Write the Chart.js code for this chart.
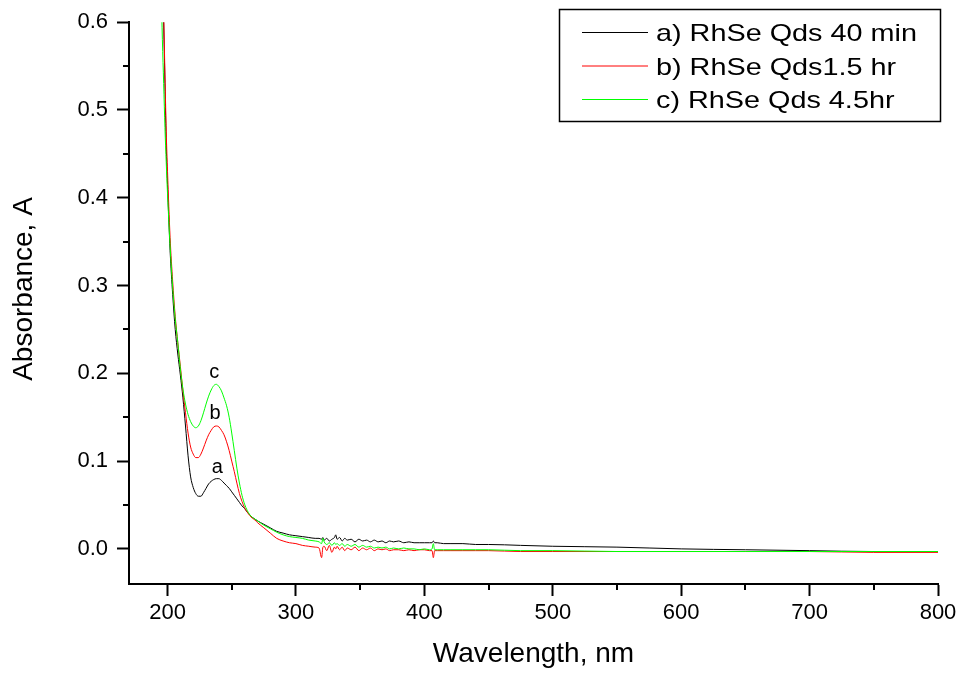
<!DOCTYPE html>
<html>
<head>
<meta charset="utf-8">
<script src="https://cdn.jsdelivr.net/npm/chart.js@4.4.1/dist/chart.umd.min.js"></script>
<style>
    html, body { margin: 0; padding: 0; background: #ffffff; }
    #wrap { width: 961px; height: 675px; }
</style>
</head>
<body>
<div id="wrap"><canvas id="canvas"></canvas></div>
<script>
// wavelength, nm (shared x values)
var wavelength = [195, 196, 197, 198, 199, 200,
    202, 204, 206, 208, 210, 212, 214, 216, 218, 220,
    222, 224, 226, 228, 230, 232, 234, 236, 238, 240,
    242, 244, 246, 248, 250, 252, 254, 256, 258, 260,
    262, 264, 266, 268, 270,
    275, 280, 285, 290, 295, 300, 305, 310, 315,
    318, 320, 321, 322,
    324, 326, 328, 330,
    331, 332, 334, 336, 338, 340,
    343, 346, 349, 352, 355, 358, 361, 364, 367, 370, 373, 376,
    380, 384, 388, 392, 396, 400,
    404, 406, 407, 408, 410,
    415, 420, 430, 440, 450, 475, 500,
    550, 600, 650, 700, 750, 800];

// a) RhSe Qds 40 min
var absA = [0.74, 0.67, 0.60, 0.53, 0.46, 0.415,
    0.34, 0.29, 0.25, 0.222, 0.198, 0.172, 0.14, 0.106, 0.082, 0.070,
    0.063, 0.060, 0.060, 0.064, 0.069, 0.074, 0.077, 0.079, 0.080, 0.080,
    0.078, 0.075, 0.072, 0.069, 0.065, 0.061, 0.057, 0.053, 0.049, 0.046,
    0.042, 0.039, 0.036, 0.034, 0.032,
    0.028, 0.024, 0.020, 0.018, 0.016, 0.015, 0.014, 0.013, 0.012,
    0.012, 0.011, 0.013, 0.010,
    0.012, 0.009, 0.011, 0.013,
    0.016, 0.011, 0.013, 0.009, 0.012, 0.010,
    0.011, 0.008, 0.011, 0.009, 0.010, 0.008, 0.010, 0.008, 0.009, 0.007, 0.009, 0.008,
    0.009, 0.007, 0.008, 0.007, 0.007, 0.007,
    0.007, 0.007, 0.009, 0.007, 0.007,
    0.006, 0.006, 0.006, 0.005, 0.005, 0.004, 0.003,
    0.002, 0.000, -0.001, -0.002, -0.003, -0.003];

// b) RhSe Qds1.5 hr
var absB = [0.75, 0.68, 0.61, 0.54, 0.475, 0.43,
    0.355, 0.305, 0.265, 0.235, 0.208, 0.18, 0.155, 0.132, 0.116, 0.108,
    0.104, 0.104, 0.108, 0.115, 0.123, 0.130, 0.135, 0.139, 0.140, 0.139,
    0.135, 0.130, 0.122, 0.112, 0.100, 0.088, 0.075, 0.063, 0.054, 0.047,
    0.042, 0.038, 0.035, 0.033, 0.030,
    0.024, 0.018, 0.012, 0.009, 0.007, 0.006, 0.004, 0.003, 0.002,
    0.001, -0.010, 0.002, 0.003,
    -0.002, 0.004, -0.004, 0.002,
    0.000, 0.003, -0.001, 0.002, -0.002, 0.001,
    -0.001, 0.002, -0.002, 0.001, -0.001, 0.001, -0.002, 0.000, -0.001, 0.000, -0.002, -0.001,
    -0.001, -0.002, -0.001, -0.002, -0.001, -0.001,
    -0.002, -0.002, -0.010, -0.002, -0.002,
    -0.002, -0.002, -0.002, -0.002, -0.002, -0.003, -0.003,
    -0.003, -0.003, -0.003, -0.003, -0.004, -0.004];

// c) RhSe Qds 4.5hr
var absC = [0.64, 0.58, 0.53, 0.48, 0.44, 0.405,
    0.345, 0.298, 0.262, 0.235, 0.205, 0.182, 0.165, 0.153, 0.145, 0.140,
    0.138, 0.140, 0.146, 0.155, 0.165, 0.174, 0.181, 0.186, 0.1875, 0.185,
    0.180, 0.172, 0.163, 0.150, 0.132, 0.112, 0.092, 0.075, 0.061, 0.051,
    0.044, 0.039, 0.036, 0.034, 0.032,
    0.027, 0.023, 0.019, 0.016, 0.014, 0.013, 0.012, 0.010, 0.009,
    0.008, 0.006, 0.012, 0.008,
    0.005, 0.007, 0.004, 0.007,
    0.005, 0.006, 0.004, 0.006, 0.003, 0.005,
    0.003, 0.005, 0.002, 0.004, 0.002, 0.003, 0.001, 0.002, 0.001, 0.002, 0.000, 0.001,
    0.000, 0.001, 0.000, 0.000, -0.001, 0.000,
    -0.001, 0.000, 0.006, -0.001, -0.001,
    -0.001, -0.001, -0.001, -0.001, -0.001, -0.002, -0.002,
    -0.003, -0.003, -0.003, -0.003, -0.003, -0.003];

var seriesLabels = ['a) RhSe Qds 40 min', 'b) RhSe Qds1.5 hr', 'c) RhSe Qds 4.5hr'];
var seriesColors = ['#000000', '#ff0000', '#00ff00'];

// curve letters placed next to the peaks
var peakText = ['a', 'b', 'c'];
var peakX = [238.7, 237.1, 236.4];
var peakY = [0.093, 0.1545, 0.201];

var FONT = "'Liberation Sans', Arial, sans-serif";

function toPoints(values) {
    return values.map(function (v, i) { return { x: wavelength[i], y: v }; });
}

// minor ticks halfway between the major ones (outside the axes)
var minorTicks = {
    id: 'minorTicks',
    afterDraw: function (chart) {
        var ctx = chart.ctx;
        var area = chart.chartArea;
        var xs = chart.scales.x, ys = chart.scales.y;
        ctx.save();
        ctx.strokeStyle = '#000';
        ctx.lineWidth = 2;
        ctx.beginPath();
        for (var i = 0; i < xs.ticks.length - 1; i++) {
            var px = Math.round(xs.getPixelForValue((xs.ticks[i].value + xs.ticks[i + 1].value) / 2));
            ctx.moveTo(px, area.bottom);
            ctx.lineTo(px, area.bottom + 6);
        }
        for (var j = 0; j < ys.ticks.length - 1; j++) {
            var py = Math.round(ys.getPixelForValue((ys.ticks[j].value + ys.ticks[j + 1].value) / 2));
            ctx.moveTo(area.left, py);
            ctx.lineTo(area.left - 6, py);
        }
        ctx.stroke();
        ctx.restore();
    }
};

// boxed legend top right + the a/b/c letters + y title
var extras = {
    id: 'extras',
    afterDraw: function (chart) {
        var ctx = chart.ctx;
        var xs = chart.scales.x, ys = chart.scales.y;
        ctx.save();

        ctx.strokeStyle = '#000';
        ctx.lineWidth = 1.5;
        ctx.strokeRect(559.5, 9.5, 381, 112);

        ctx.font = '24px ' + FONT;
        ctx.fillStyle = '#000';
        ctx.textAlign = 'left';
        ctx.textBaseline = 'alphabetic';
        chart.data.datasets.forEach(function (ds, i) {
            var rowY = 32.5 + i * 33.5;
            ctx.strokeStyle = ds.borderColor;
            ctx.lineWidth = 1;
            ctx.beginPath();
            ctx.moveTo(582, rowY);
            ctx.lineTo(648, rowY);
            ctx.stroke();
            ctx.save();
            ctx.translate(656, rowY + 8.8);
            ctx.scale(1.2, 1);
            ctx.fillText(ds.label, 0, 0);
            ctx.restore();
        });

        ctx.font = '20px ' + FONT;
        ctx.textAlign = 'center';
        ctx.textBaseline = 'middle';
        for (var k = 0; k < peakText.length; k++) {
            ctx.fillText(peakText[k], xs.getPixelForValue(peakX[k]), ys.getPixelForValue(peakY[k]));
        }

        ctx.font = '28px ' + FONT;
        ctx.translate(24, 289);
        ctx.rotate(-Math.PI / 2);
        ctx.fillText('Absorbance, A', 0, 0);
        ctx.restore();
    }
};

document.addEventListener('DOMContentLoaded', function () {
    var canvas = document.getElementById('canvas');

    var datasets = [absA, absB, absC].map(function (vals, i) {
        return {
            label: seriesLabels[i],
            data: toPoints(vals),
            borderColor: seriesColors[i],
            backgroundColor: seriesColors[i],
            borderWidth: 1,
            pointRadius: 0,
            fill: false,
            cubicInterpolationMode: 'monotone',
            order: 3 - i
        };
    });

    var config = {
        type: 'line',
        data: { datasets: datasets },
        options: {
            responsive: true,
            maintainAspectRatio: false,
            animation: false,
            devicePixelRatio: 1,
            layout: { padding: { top: 21, right: 23, left: 0, bottom: 0 } },
            plugins: {
                legend: { display: false },
                tooltip: { enabled: false }
            },
            scales: {
                x: {
                    type: 'linear',
                    min: 170,
                    max: 800,
                    afterFit: function (scale) { scale.height = 91; },
                    border: { display: true, color: '#000', width: 2 },
                    grid: {
                        drawOnChartArea: false,
                        drawTicks: true,
                        tickLength: 12,
                        tickWidth: 2,
                        tickColor: '#000'
                    },
                    ticks: {
                        stepSize: 100,
                        includeBounds: false,
                        maxRotation: 0,
                        padding: 4,
                        color: '#000',
                        font: { family: FONT, size: 22 }
                    },
                    title: {
                        display: true,
                        text: 'Wavelength, nm',
                        color: '#000',
                        font: { family: FONT, size: 28 },
                        padding: { top: 0, bottom: 4 }
                    }
                },
                y: {
                    min: -0.04,
                    max: 0.6,
                    afterFit: function (scale) { scale.width = 129; },
                    border: { display: true, color: '#000', width: 2 },
                    grid: {
                        drawOnChartArea: false,
                        drawTicks: true,
                        tickLength: 12,
                        tickWidth: 2,
                        tickColor: '#000'
                    },
                    ticks: {
                        stepSize: 0.1,
                        includeBounds: false,
                        padding: 9,
                        color: '#000',
                        font: { family: FONT, size: 22 },
                        callback: function (v) { return v.toFixed(1); }
                    }
                }
            }
        },
        plugins: [minorTicks, extras]
    };

    window.chart = new Chart(canvas, config);
});
</script>
</body>
</html>
